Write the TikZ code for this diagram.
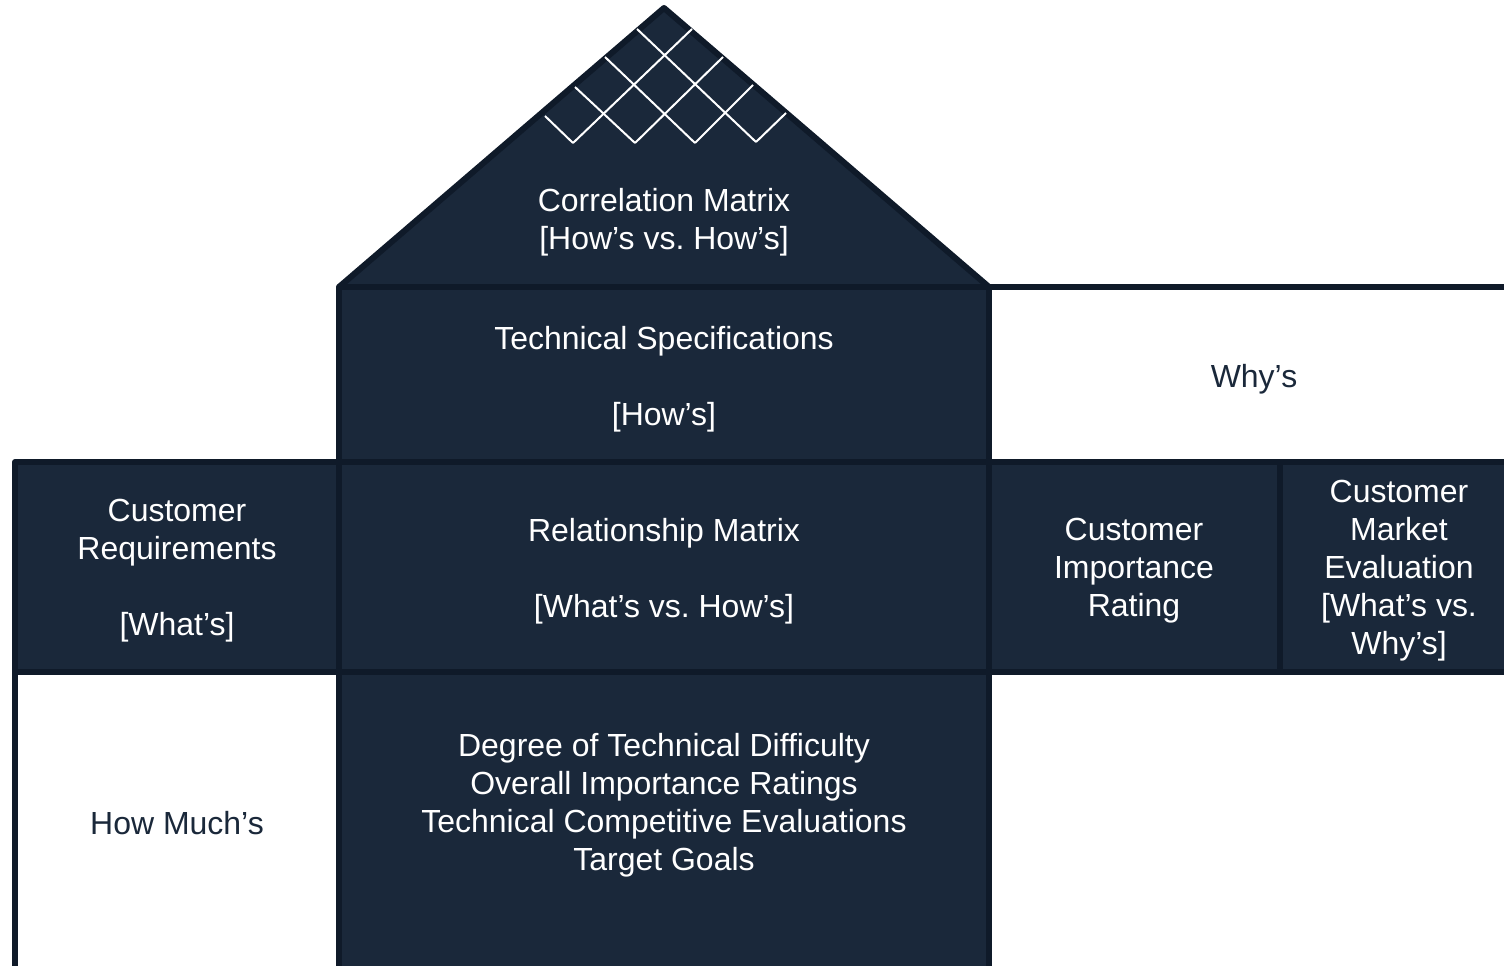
\documentclass[tikz,border=0pt]{standalone}
\usepackage{fontspec}
\setmainfont{Liberation Sans}
\frenchspacing
\definecolor{navy}{HTML}{1A283A}
\definecolor{navyedge}{HTML}{0F1A29}
\begin{document}
\begin{tikzpicture}[x=0.02cm,y=-0.02cm,
  darkbox/.style={fill=navy,draw=navyedge,line width=0.12cm,line join=round},
  lightbox/.style={fill=white,draw=navyedge,line width=0.12cm},
  lattice/.style={draw=white,line width=0.04cm},
  whitetext/.style={text=white,align=center,font=\fontsize{18.2}{21.6}\selectfont\frenchspacing,inner sep=0pt},
  navytext/.style={text=navy,align=center,font=\fontsize{18.2}{21.6}\selectfont\frenchspacing,inner sep=0pt}]
\useasboundingbox (0,0) rectangle (1504,966);
\clip (0,0) rectangle (1504,966);
% roof
\filldraw[darkbox] (339,287) -- (664,8) -- (989,287) -- cycle;
% lattice
\draw[lattice] (637,29) -- (756,142);
\draw[lattice] (605,57) -- (695,143);
\draw[lattice] (575,87) -- (635,143);
\draw[lattice] (545,116) -- (573,143);
\draw[lattice] (573,143) -- (692,29);
\draw[lattice] (635,143) -- (723,57);
\draw[lattice] (695,143) -- (753,85);
\draw[lattice] (756,142) -- (786,113);
% boxes
\filldraw[darkbox] (339,287) rectangle (989,462);
\filldraw[lightbox] (989,287) rectangle (1540,462);
\filldraw[darkbox] (15,462) rectangle (339,672);
\filldraw[darkbox] (339,462) rectangle (989,672);
\filldraw[darkbox] (989,462) rectangle (1280,672);
\filldraw[darkbox] (1280,462) rectangle (1540,672);
\filldraw[lightbox] (15,672) rectangle (339,1000);
\filldraw[darkbox] (339,672) rectangle (989,1000);
% texts
\node[whitetext] (corr) at (664,222) {Correlation Matrix\\{[How’s vs. How’s]}};
\node[whitetext] (tech) at (664,379) {Technical Specifications\\[21.6pt]{[How’s]}};
\node[navytext] (why) at (1254,379) {Why’s};
\node[whitetext] (creq) at (177,571) {Customer\\Requirements\\[21.6pt]{[What’s]}};
\node[whitetext] (rel) at (664,571) {Relationship Matrix\\[21.6pt]{[What’s vs. How’s]}};
\node[whitetext] (cir) at (1134,571) {Customer\\Importance\\Rating};
\node[whitetext] (cme) at (1399,571) {Customer\\Market\\Evaluation\\{[What’s vs.}\\Why’s]};
\node[navytext] (howmuch) at (177,823) {How Much’s};
\node[whitetext] (bottom) at (664,805) {Degree of Technical Difficulty\\Overall Importance Ratings\\Technical Competitive Evaluations\\Target Goals};
\end{tikzpicture}
\end{document}
